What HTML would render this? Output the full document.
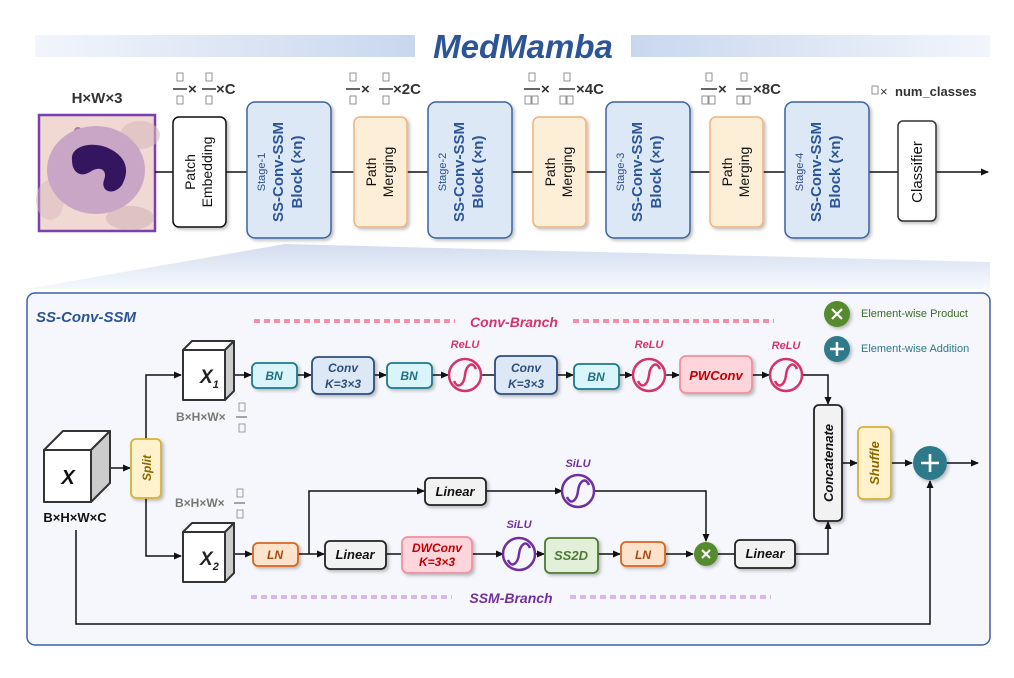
<!DOCTYPE html>
<html><head><meta charset="utf-8"><style>
html,body{margin:0;padding:0;background:#fff}
svg{display:block}
text{font-family:"Liberation Sans",sans-serif}
</style></head><body>
<svg width="1014" height="678" viewBox="0 0 1014 678" xmlns="http://www.w3.org/2000/svg">
<defs>
<linearGradient id="gl" x1="0" x2="1"><stop offset="0" stop-color="#f2f5fb"/><stop offset="1" stop-color="#c9d7ee"/></linearGradient>
<linearGradient id="gr" x1="0" x2="1"><stop offset="0" stop-color="#c9d7ee"/><stop offset="1" stop-color="#f2f5fb"/></linearGradient>
<linearGradient id="tz" x1="0" y1="0" x2="0" y2="1"><stop offset="0" stop-color="#d3ddf0"/><stop offset="1" stop-color="#f6f8fd"/></linearGradient>
<marker id="ar" markerWidth="8" markerHeight="8" refX="7" refY="4" orient="auto" markerUnits="userSpaceOnUse"><path d="M0,0.5 L8,4 L0,7.5 Z" fill="#111"/></marker>
<filter id="sh" x="-20%" y="-20%" width="150%" height="150%"><feDropShadow dx="2" dy="2" stdDeviation="1.5" flood-color="#000" flood-opacity="0.25"/></filter>
</defs>

<!-- title -->
<rect x="35" y="35" width="380" height="22" fill="url(#gl)"/>
<rect x="631" y="35" width="359" height="22" fill="url(#gr)"/>
<text x="523" y="58" text-anchor="middle" font-size="33" font-weight="bold" font-style="italic" fill="#2c5597">MedMamba</text>

<!-- top labels -->
<text x="97" y="103" text-anchor="middle" font-size="15" font-weight="bold" fill="#333">H×W×3</text>
<g font-size="15" font-weight="bold" fill="#333" stroke="none">
<g fill="none" stroke="#777" stroke-width="0.8">
<rect x="177" y="73" width="6" height="8"/><rect x="177" y="96" width="6" height="8"/>
<rect x="206" y="73" width="6" height="8"/><rect x="206" y="96" width="6" height="8"/>
<rect x="350" y="73" width="6" height="8"/><rect x="350" y="96" width="6" height="8"/>
<rect x="383" y="73" width="6" height="8"/><rect x="383" y="96" width="6" height="8"/>
<rect x="529" y="73" width="6" height="8"/><rect x="525" y="96" width="6" height="8"/><rect x="532" y="96" width="6" height="8"/>
<rect x="564" y="73" width="6" height="8"/><rect x="560" y="96" width="6" height="8"/><rect x="567" y="96" width="6" height="8"/>
<rect x="706" y="73" width="6" height="8"/><rect x="702" y="96" width="6" height="8"/><rect x="709" y="96" width="6" height="8"/>
<rect x="741" y="73" width="6" height="8"/><rect x="737" y="96" width="6" height="8"/><rect x="744" y="96" width="6" height="8"/>
<rect x="872" y="86" width="6" height="8"/>
</g>
<g stroke="#333" stroke-width="1.5">
<line x1="173" y1="89" x2="187" y2="89"/><line x1="202" y1="89" x2="216" y2="89"/>
<line x1="346" y1="89" x2="360" y2="89"/><line x1="379" y1="89" x2="393" y2="89"/>
<line x1="524" y1="89" x2="540" y2="89"/><line x1="559" y1="89" x2="575" y2="89"/>
<line x1="701" y1="89" x2="717" y2="89"/><line x1="736" y1="89" x2="752" y2="89"/>
</g>
<text x="188" y="94">×</text><text x="216" y="94">×C</text>
<text x="361" y="94">×</text><text x="393" y="94">×2C</text>
<text x="541" y="94">×</text><text x="576" y="94">×4C</text>
<text x="718" y="94">×</text><text x="753" y="94">×8C</text>
<text x="880" y="96" font-size="13" font-weight="normal">× </text><text x="895" y="96" font-size="13">num_classes</text>
</g>

<!-- image -->
<rect x="39" y="115" width="116" height="116" fill="#efd9d2" stroke="#7b3fb0" stroke-width="2.5"/>
<ellipse cx="140" cy="135" rx="20" ry="14" fill="#d9b9bd" opacity="0.6"/>
<ellipse cx="130" cy="218" rx="24" ry="12" fill="#d4b3b8" opacity="0.6"/>
<ellipse cx="50" cy="200" rx="14" ry="20" fill="#d9b9bd" opacity="0.5"/>
<circle cx="78" cy="131" r="4" fill="#a880a8"/>
<ellipse cx="96" cy="170" rx="49" ry="44" fill="#c9a6c6"/>
<path d="M72,160 C70,145 95,140 112,150 C126,158 130,170 122,185 C114,196 100,192 104,180 C108,170 100,165 90,172 C80,178 72,172 72,160 Z" fill="#34155f"/>

<!-- main line -->
<line x1="155" y1="172" x2="988" y2="172" stroke="#111" stroke-width="1.5" marker-end="url(#ar)"/>

<!-- top boxes -->
<g filter="url(#sh)">
<rect x="173" y="117" width="53" height="110" rx="6" fill="#fff" stroke="#111" stroke-width="1.5"/>
<rect x="354" y="117" width="53" height="110" rx="6" fill="#fdeed8" stroke="#f2b27a" stroke-width="1.5"/>
<rect x="533" y="117" width="53" height="110" rx="6" fill="#fdeed8" stroke="#f2b27a" stroke-width="1.5"/>
<rect x="710" y="117" width="53" height="110" rx="6" fill="#fdeed8" stroke="#f2b27a" stroke-width="1.5"/>
<rect x="898" y="121" width="38" height="100" rx="5" fill="#fff" stroke="#333" stroke-width="1.5"/>
<rect x="247" y="102" width="84" height="136" rx="8" fill="#dce8f6" stroke="#3a62a0" stroke-width="1.5"/>
<rect x="428" y="102" width="84" height="136" rx="8" fill="#dce8f6" stroke="#3a62a0" stroke-width="1.5"/>
<rect x="606" y="102" width="84" height="136" rx="8" fill="#dce8f6" stroke="#3a62a0" stroke-width="1.5"/>
<rect x="785" y="102" width="84" height="136" rx="8" fill="#dce8f6" stroke="#3a62a0" stroke-width="1.5"/>
</g>
<g font-size="14" fill="#111" text-anchor="middle">
<text transform="translate(199,172) rotate(-90)"><tspan x="0" dy="-4">Patch</tspan><tspan x="0" dy="17">Embedding</tspan></text>
<text transform="translate(380,172) rotate(-90)"><tspan x="0" dy="-4">Path</tspan><tspan x="0" dy="17">Merging</tspan></text>
<text transform="translate(559,172) rotate(-90)"><tspan x="0" dy="-4">Path</tspan><tspan x="0" dy="17">Merging</tspan></text>
<text transform="translate(736,172) rotate(-90)"><tspan x="0" dy="-4">Path</tspan><tspan x="0" dy="17">Merging</tspan></text>
<text transform="translate(922,172) rotate(-90)" font-size="15">Classifier</text>
</g>
<g text-anchor="middle">
<g transform="translate(289,172) rotate(-90)"><text x="0" y="-24" font-size="11" fill="#2c4f8c">Stage-1</text><text x="0" y="-6" font-size="15" font-weight="bold" fill="#2c5597">SS-Conv-SSM</text><text x="0" y="13" font-size="15" font-weight="bold" fill="#2c5597">Block (×n)</text></g>
<g transform="translate(470,172) rotate(-90)"><text x="0" y="-24" font-size="11" fill="#2c4f8c">Stage-2</text><text x="0" y="-6" font-size="15" font-weight="bold" fill="#2c5597">SS-Conv-SSM</text><text x="0" y="13" font-size="15" font-weight="bold" fill="#2c5597">Block (×n)</text></g>
<g transform="translate(648,172) rotate(-90)"><text x="0" y="-24" font-size="11" fill="#2c4f8c">Stage-3</text><text x="0" y="-6" font-size="15" font-weight="bold" fill="#2c5597">SS-Conv-SSM</text><text x="0" y="13" font-size="15" font-weight="bold" fill="#2c5597">Block (×n)</text></g>
<g transform="translate(827,172) rotate(-90)"><text x="0" y="-24" font-size="11" fill="#2c4f8c">Stage-4</text><text x="0" y="-6" font-size="15" font-weight="bold" fill="#2c5597">SS-Conv-SSM</text><text x="0" y="13" font-size="15" font-weight="bold" fill="#2c5597">Block (×n)</text></g>
</g>

<!-- trapezoid -->
<polygon points="285,244 26,289 990,289 990,262" fill="url(#tz)"/>

<!-- lower panel -->
<rect x="27" y="293" width="963" height="352" rx="8" fill="#f5f7fc" stroke="#3a62a0" stroke-width="1.5"/>
<text x="36" y="322" font-size="15" font-weight="bold" font-style="italic" fill="#2c5597">SS-Conv-SSM</text>

<!-- branch labels -->
<line x1="254" y1="321" x2="455" y2="321" stroke="#f58ea8" stroke-width="4" stroke-dasharray="6,4"/>
<line x1="573" y1="321" x2="774" y2="321" stroke="#f58ea8" stroke-width="4" stroke-dasharray="6,4"/>
<text x="514" y="327" text-anchor="middle" font-size="14" font-weight="bold" font-style="italic" fill="#d6336c">Conv-Branch</text>
<line x1="251" y1="597" x2="452" y2="597" stroke="#d7b8ec" stroke-width="4" stroke-dasharray="6,4"/>
<line x1="570" y1="597" x2="771" y2="597" stroke="#d7b8ec" stroke-width="4" stroke-dasharray="6,4"/>
<text x="511" y="603" text-anchor="middle" font-size="14" font-weight="bold" font-style="italic" fill="#7030a0">SSM-Branch</text>

<!-- legend -->
<circle cx="837" cy="314" r="13" fill="#558b2f" filter="url(#sh)"/>
<path d="M832,309 L842,319 M842,309 L832,319" stroke="#fff" stroke-width="2.2"/>
<text x="861" y="317" font-size="11" fill="#3d6b25">Element-wise Product</text>
<circle cx="837" cy="349" r="13" fill="#2d7a8a" filter="url(#sh)"/>
<path d="M830,349 L844,349 M837,342 L837,356" stroke="#fff" stroke-width="2.5"/>
<text x="861" y="352" font-size="11" fill="#2d7a8a">Element-wise Addition</text>

<!-- connectors -->
<g stroke="#111" stroke-width="1.5" fill="none">
<line x1="103" y1="468" x2="130" y2="468" marker-end="url(#ar)"/>
<polyline points="146,439 146,375 181,375" marker-end="url(#ar)"/>
<polyline points="146,498 146,556 181,556" marker-end="url(#ar)"/>
<line x1="234" y1="375" x2="251" y2="375" marker-end="url(#ar)"/>
<line x1="297" y1="375" x2="311" y2="375" marker-end="url(#ar)"/>
<line x1="374" y1="375" x2="386" y2="375" marker-end="url(#ar)"/>
<line x1="432" y1="375" x2="448" y2="375" marker-end="url(#ar)"/>
<line x1="481" y1="375" x2="495" y2="375"/>
<line x1="557" y1="375" x2="573" y2="375" marker-end="url(#ar)"/>
<line x1="619" y1="375" x2="632" y2="375" marker-end="url(#ar)"/>
<line x1="665" y1="375" x2="679" y2="375" marker-end="url(#ar)"/>
<line x1="752" y1="375" x2="769" y2="375" marker-end="url(#ar)"/>
<polyline points="802,375 828,375 828,404" marker-end="url(#ar)"/>
<line x1="842" y1="463" x2="857" y2="463" marker-end="url(#ar)"/>
<line x1="891" y1="463" x2="912" y2="463" marker-end="url(#ar)"/>
<line x1="947" y1="463" x2="978" y2="463" marker-end="url(#ar)"/>
<line x1="234" y1="554" x2="252" y2="554" marker-end="url(#ar)"/>
<line x1="298" y1="554" x2="324" y2="554" marker-end="url(#ar)"/>
<polyline points="309,554 309,491 424,491" marker-end="url(#ar)"/>
<line x1="486" y1="491" x2="562" y2="491" marker-end="url(#ar)"/>
<polyline points="594,491 706,491 706,541" marker-end="url(#ar)"/>
<line x1="386" y1="554" x2="401" y2="554"/>
<line x1="472" y1="554" x2="503" y2="554" marker-end="url(#ar)"/>
<line x1="535" y1="554" x2="544" y2="554" marker-end="url(#ar)"/>
<line x1="598" y1="554" x2="620" y2="554" marker-end="url(#ar)"/>
<line x1="665" y1="554" x2="693" y2="554" marker-end="url(#ar)"/>
<line x1="718" y1="554" x2="735" y2="554"/>
<polyline points="795,554 828,554 828,522" marker-end="url(#ar)"/>
<polyline points="76,530 76,624 930,624 930,481" marker-end="url(#ar)"/>
</g>

<!-- cubes -->
<g stroke="#333" stroke-width="2" stroke-linejoin="round">
<polygon points="44,450 63,431 110,431 91,450" fill="#fff"/>
<polygon points="91,450 110,431 110,483 91,502" fill="#ccc"/>
<rect x="44" y="450" width="47" height="52" fill="#fff"/>
<polygon points="183,350 192,341 234,341 225,350" fill="#fff"/>
<polygon points="225,350 234,341 234,391 225,400" fill="#ccc"/>
<rect x="183" y="350" width="42" height="50" fill="#fff"/>
<polygon points="183,532 192,523 234,523 225,532" fill="#fff"/>
<polygon points="225,532 234,523 234,573 225,582" fill="#ccc"/>
<rect x="183" y="532" width="42" height="50" fill="#fff"/>
</g>
<text x="68" y="484" text-anchor="middle" font-size="20" font-weight="bold" font-style="italic" fill="#111">X</text>
<text x="200" y="383" font-size="19" font-weight="bold" font-style="italic" fill="#222">X<tspan font-size="11" dy="5">1</tspan></text>
<text x="200" y="565" font-size="19" font-weight="bold" font-style="italic" fill="#222">X<tspan font-size="11" dy="5">2</tspan></text>
<text x="75" y="522" text-anchor="middle" font-size="13" font-weight="bold" fill="#111">B×H×W×C</text>
<g font-size="12" font-weight="bold" fill="#777">
<text x="176" y="421">B×H×W×</text>
<text x="175" y="507">B×H×W×</text>
</g>
<g fill="none" stroke="#888" stroke-width="0.8">
<rect x="239" y="403" width="6" height="8"/><rect x="239" y="424" width="6" height="8"/>
<rect x="237" y="489" width="6" height="8"/><rect x="237" y="510" width="6" height="8"/>
</g>
<line x1="236" y1="417" x2="247" y2="417" stroke="#777" stroke-width="1.3"/>
<line x1="234" y1="503" x2="245" y2="503" stroke="#777" stroke-width="1.3"/>

<!-- boxes lower -->
<g filter="url(#sh)" stroke-width="1.8">
<rect x="131" y="439" width="30" height="59" rx="5" fill="#fff2cc" stroke="#d6b13a"/>
<rect x="252" y="363" width="45" height="25" rx="5" fill="#d9f4fa" stroke="#1e7a8c"/>
<rect x="312" y="357" width="62" height="37" rx="6" fill="#dce8f6" stroke="#2d4f7c"/>
<rect x="387" y="363" width="45" height="25" rx="5" fill="#d9f4fa" stroke="#1e7a8c"/>
<rect x="495" y="356" width="62" height="38" rx="6" fill="#dce8f6" stroke="#2d4f7c"/>
<rect x="574" y="364" width="45" height="25" rx="5" fill="#d9f4fa" stroke="#1e7a8c"/>
<rect x="680" y="356" width="72" height="37" rx="6" fill="#ffd5dc" stroke="#f0909f"/>
<rect x="814" y="405" width="28" height="116" rx="5" fill="#f2f2f2" stroke="#222"/>
<rect x="858" y="427" width="33" height="72" rx="5" fill="#fff2cc" stroke="#d6b13a"/>
<rect x="253" y="543" width="45" height="23" rx="5" fill="#fde3cc" stroke="#d9661f"/>
<rect x="325" y="541" width="61" height="28" rx="5" fill="#f2f2f2" stroke="#222"/>
<rect x="425" y="478" width="61" height="27" rx="5" fill="#f2f2f2" stroke="#222"/>
<rect x="402" y="537" width="70" height="36" rx="6" fill="#ffd5dc" stroke="#f0909f"/>
<rect x="545" y="538" width="53" height="35" rx="5" fill="#e2efd9" stroke="#4e7a33"/>
<rect x="621" y="542" width="44" height="24" rx="5" fill="#fde3cc" stroke="#d9661f"/>
<rect x="735" y="540" width="60" height="28" rx="5" fill="#f2f2f2" stroke="#222"/>
<circle cx="706" cy="554" r="12" fill="#558b2f" stroke="none"/>
<circle cx="930" cy="463" r="17" fill="#2d7a8a" stroke="none"/>
</g>
<path d="M702,550 L710,558 M710,550 L702,558" stroke="#fff" stroke-width="2"/>
<path d="M921,463 L939,463 M930,454 L930,472" stroke="#fff" stroke-width="2.6"/>

<!-- activations -->
<g fill="#f5f7fc" stroke-width="2.5">
<g stroke="#d6336c">
<circle cx="465" cy="375" r="16"/><path d="M454,381 C458,390 464,384 465,375 C466,366 472,360 476,369"/>
<circle cx="649" cy="375" r="16"/><path d="M638,381 C642,390 648,384 649,375 C650,366 656,360 660,369"/>
<circle cx="786" cy="375" r="16"/><path d="M775,381 C779,390 785,384 786,375 C787,366 793,360 797,369"/>
</g>
<g stroke="#7030a0">
<circle cx="519" cy="554" r="16"/><path d="M508,560 C512,569 518,563 519,554 C520,545 526,539 530,548"/>
<circle cx="578" cy="491" r="16"/><path d="M567,497 C571,506 577,500 578,491 C579,482 585,476 589,485"/>
</g>
</g>
<g font-size="11" font-weight="bold" font-style="italic" text-anchor="middle">
<text x="465" y="348" fill="#d6336c">ReLU</text>
<text x="649" y="348" fill="#d6336c">ReLU</text>
<text x="786" y="349" fill="#d6336c">ReLU</text>
<text x="519" y="528" fill="#7030a0">SiLU</text>
<text x="578" y="467" fill="#7030a0">SiLU</text>
</g>

<!-- box labels -->
<g font-size="12" font-weight="bold" font-style="italic" text-anchor="middle">
<text x="274" y="380" fill="#1e6f80">BN</text>
<text x="409" y="380" fill="#1e6f80">BN</text>
<text x="596" y="381" fill="#1e6f80">BN</text>
<text x="343" y="372" fill="#2d4f7c">Conv</text><text x="343" y="388" fill="#2d4f7c">K=3×3</text>
<text x="526" y="372" fill="#2d4f7c">Conv</text><text x="526" y="388" fill="#2d4f7c">K=3×3</text>
<text x="716" y="380" fill="#c00000" font-size="13">PWConv</text>
<text x="275" y="559" fill="#a84a10">LN</text>
<text x="643" y="559" fill="#a84a10">LN</text>
<text x="355" y="559" fill="#111" font-size="13">Linear</text>
<text x="455" y="496" fill="#111" font-size="13">Linear</text>
<text x="765" y="558" fill="#111" font-size="13">Linear</text>
<text x="437" y="552" fill="#c00000">DWConv</text><text x="437" y="566" fill="#c00000">K=3×3</text>
<text x="571" y="560" fill="#4e7a33" font-size="13">SS2D</text>
<text transform="translate(151,468) rotate(-90)" fill="#8a6a00">Split</text>
<text transform="translate(833,463) rotate(-90)" fill="#111" font-size="13">Concatenate</text>
<text transform="translate(879,463) rotate(-90)" fill="#8a6a00" font-size="13">Shuffle</text>
</g>
</svg>
</body></html>
